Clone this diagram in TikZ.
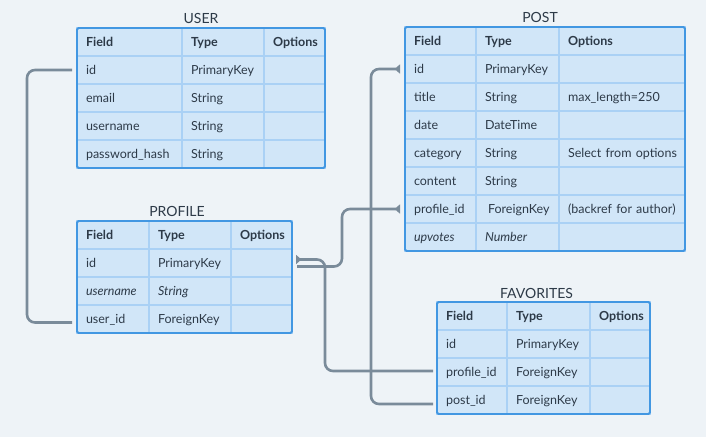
\documentclass[tikz,border=0pt]{standalone}
\usepackage{fontspec}
\setmainfont{Lato}
\usetikzlibrary{positioning,calc,arrows.meta}
\hyphenpenalty=10000
\definecolor{bgcol}{HTML}{EEF3F7}
\definecolor{cellfill}{HTML}{D1E6F8}
\definecolor{gridline}{HTML}{AAD1F5}
\definecolor{framecol}{HTML}{4297E2}
\definecolor{inkcol}{HTML}{2D3A48}
\definecolor{linkcol}{HTML}{7A8B9A}
\tikzset{
    cell/.style={
        rectangle,
        draw=gridline,
        fill=cellfill,
        line width=1.2pt,
        text width=#1,
        inner xsep=9pt,
        inner ysep=0pt,
        outer sep=0pt,
        minimum height=28pt,
        text height=10.5pt,
        text depth=1.5pt,
        align=left,
        text=inkcol,
        font=\fontsize{12.5}{14}\selectfont,
    },
    tableframe/.style={
        draw=framecol,
        line width=1.8pt,
        rounded corners=1.5pt,
    },
    tabletitle/.style={
        anchor=base,
        inner sep=0pt,
        text=inkcol,
        font=\fontsize{14}{16}\selectfont,
    },
    link/.style={
        draw=linkcol,
        line width=2.6pt,
        rounded corners=8pt,
    },
    fk/.style={
        arrows={Triangle[reversed,length=5.5pt,width=9pt]-},
    },
}

\begin{document}
\begin{tikzpicture}[x=1pt,y=-1pt]
    \fill[bgcol] (0,0) rectangle (706,437);
    \useasboundingbox (0,0) rectangle (706,437);

    % USER
    \foreach \f/\t/\o [count=\i from 0] in {{\textbf{Field}}/{\textbf{Type}}/{\textbf{Options}},
        id/PrimaryKey/{}, email/String/{}, username/String/{}, password\_hash/String/{}} {
        \node[cell=87pt,anchor=north west] (user-\i-a) at (77,{28+28*\i}) {\f};
        \node[cell=64pt,right=0pt of user-\i-a] (user-\i-b) {\t};
        \node[cell=43pt,right=0pt of user-\i-b] (user-\i-c) {\o};
    }
    \draw[tableframe] (user-0-a.north west) rectangle (user-4-c.south east);
    \node[tabletitle] (user-title) at (201,23.5) {USER};

    % POST
    \foreach \f/\t/\o [count=\i from 0] in {{\textbf{Field}}/{\textbf{Type}}/{\textbf{Options}},
        id/PrimaryKey/{}, title/String/max\_length=250, date/DateTime/{},
        category/String/{\mbox{Select from options}}, content/String/{},
        profile\_id/{\hspace{3pt}ForeignKey}/{\mbox{(backref for author)}},
        {\textit{upvotes}}/{\textit{Number}}/{}} {
        \node[cell=53pt,anchor=north west] (post-\i-a) at (405,{27+28*\i}) {\f};
        \node[cell=65pt,right=0pt of post-\i-a] (post-\i-b) {\t};
        \node[cell=108pt,right=0pt of post-\i-b] (post-\i-c) {\o};
    }
    \draw[tableframe] (post-0-a.north west) rectangle (post-7-c.south east);
    \node[tabletitle] (post-title) at (540,22.5) {POST};

    % PROFILE
    \foreach \f/\t/\o [count=\i from 0] in {{\textbf{Field}}/{\textbf{Type}}/{\textbf{Options}},
        id/PrimaryKey/{}, {\textit{username}}/{\textit{String}}/{}, user\_id/ForeignKey/{}} {
        \node[cell=54pt,anchor=north west] (profile-\i-a) at (77,{221+28*\i}) {\f};
        \node[cell=64pt,right=0pt of profile-\i-a] (profile-\i-b) {\t};
        \node[cell=43pt,right=0pt of profile-\i-b] (profile-\i-c) {\o};
    }
    \draw[tableframe] (profile-0-a.north west) rectangle (profile-3-c.south east);
    \node[tabletitle] (profile-title) at (177,216.5) {PROFILE};

    % FAVORITES
    \foreach \f/\t/\o [count=\i from 0] in {{\textbf{Field}}/{\textbf{Type}}/{\textbf{Options}},
        id/PrimaryKey/{}, profile\_id/ForeignKey/{}, post\_id/ForeignKey/{}} {
        \node[cell=52pt,anchor=north west] (fav-\i-a) at (437,{302+28*\i}) {\f};
        \node[cell=65pt,right=0pt of fav-\i-a] (fav-\i-b) {\t};
        \node[cell=42pt,right=0pt of fav-\i-b] (fav-\i-c) {\o};
    }
    \draw[tableframe] (fav-0-a.north west) rectangle (fav-3-c.south east);
    \node[tabletitle] (fav-title) at (536.5,298.5) {FAVORITES};

    \draw[link] ([xshift=-5pt]user-1-a.west) -- ++(-45,0) |- ([xshift=-5pt,yshift=-3.5pt]profile-3-a.west);
    \draw[link,fk] ([xshift=-5pt]post-1-a.west) -- ++(-29,0) |- ([xshift=-4pt,yshift=-4pt]fav-3-a.west);
    \draw[link,fk] ([xshift=-5pt]post-6-a.west) -- ++(-58,0) |- ([xshift=5pt,yshift=-3.5pt]profile-1-c.east);
    \draw[link,fk] ([xshift=4pt,yshift=3.5pt]profile-1-c.east) -- ++(29,0) |- ([xshift=-4pt,yshift=1pt]fav-2-a.west);
\end{tikzpicture}
\end{document}
